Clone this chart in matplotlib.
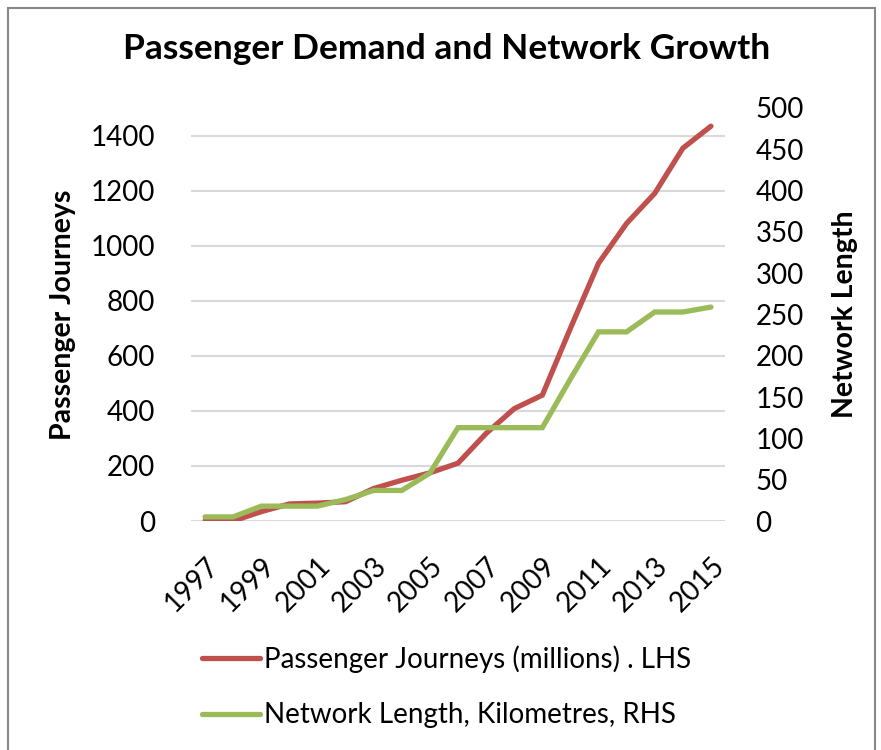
import numpy as np
import matplotlib.pyplot as plt
from matplotlib.patches import Rectangle

years = list(range(1997, 2016))
journeys = [0, 0, 34, 62, 65, 70, 118, 148, 175, 210, 318, 408, 457, 700,
            936, 1081, 1190, 1354, 1434]
network = [5, 5, 18, 18, 18, 26, 37, 37, 58, 113, 113, 113, 113, 172,
           229, 229, 253, 253, 259]

red = '#C0504D'
green = '#9BBB59'
font = 'Lato'
plt.rcParams['font.family'] = [font, 'DejaVu Sans']

fig = plt.figure(figsize=(8.81, 7.5), dpi=100)
ax = fig.add_axes([191 / 881, 1 - 521 / 750, (725 - 191) / 881, (521 - 108) / 750])
ax2 = ax.twinx()

l1, = ax.plot(years, journeys, color=red, lw=3.8, solid_capstyle='round',
              solid_joinstyle='miter', zorder=3)
l2, = ax2.plot(years, network, color=green, lw=3.8, solid_capstyle='round',
               solid_joinstyle='miter', zorder=3)

ax.set_xlim(1996.5, 2015.5)
ax.set_ylim(0, 1500)
ax2.set_ylim(0, 500)
ax.set_yticks(range(0, 1401, 200))
ax2.set_yticks(range(0, 501, 50))
ax.set_xticks(years[::2])
ax.set_xticklabels([str(y) for y in years[::2]], rotation=45, ha='right',
                   va='top', rotation_mode='anchor')

ax.grid(axis='y', color='#D9D9D9', lw=1.5)
ax.set_axisbelow(True)
for a in (ax, ax2):
    for s in a.spines.values():
        s.set_visible(False)
    a.tick_params(length=0, labelsize=20, colors='black')
ax.tick_params(axis='y', pad=26)
ax2.tick_params(axis='y', pad=22)
ax.tick_params(axis='x', pad=23)

ax.set_ylabel('Passenger Journeys', fontsize=20.5, fontweight='bold', labelpad=10)
ax2.set_ylabel('Network Length', fontsize=20.5, fontweight='bold', labelpad=20)

fig.text(447 / 881, 1 - 49 / 750, 'Passenger Demand and Network Growth',
         ha='center', va='center', fontsize=25.5, fontweight='bold')

fig.legend([l1, l2], ['Passenger Journeys (millions) . LHS',
                      'Network Length, Kilometres, RHS'],
           loc='center left', bbox_to_anchor=(188 / 881, 1 - 687 / 750),
           frameon=False, fontsize=20, handlelength=2.1, handletextpad=0.12,
           labelspacing=1.05, borderpad=0)

fig.patches.append(Rectangle((8 / 881, -0.01), (875 - 8) / 881, 1 - 8 / 750 + 0.01,
                             transform=fig.transFigure, fill=False,
                             edgecolor='#888888', lw=1.5))

fig.savefig('out.png', dpi=100)
